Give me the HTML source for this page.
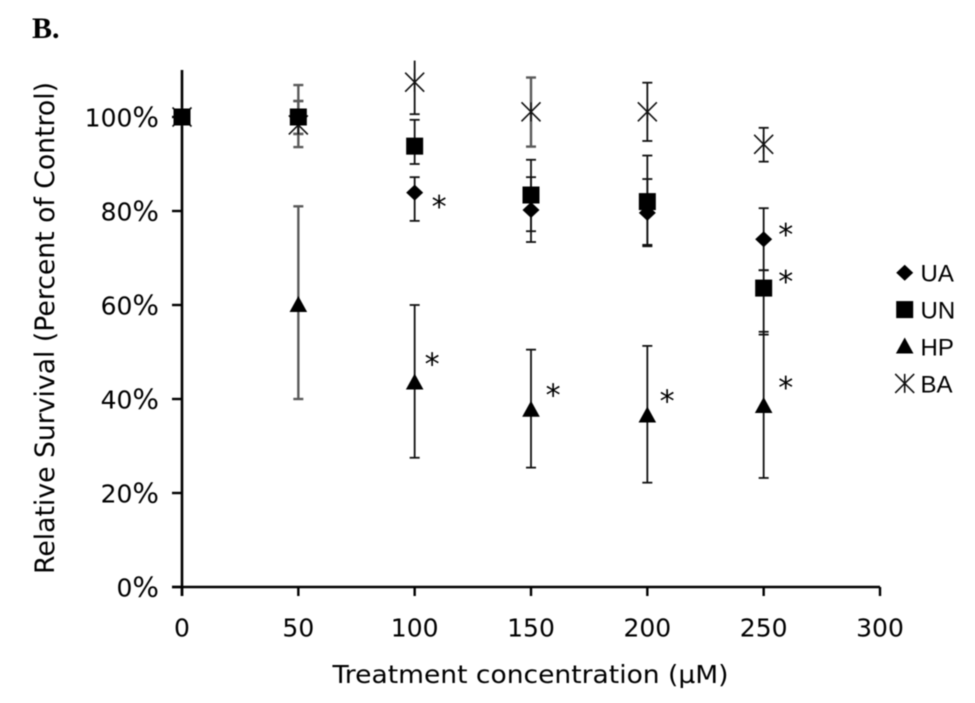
<!DOCTYPE html>
<html lang="en">
<head>
<meta charset="utf-8">
<title>Relative Survival Chart</title>
<style>
html,body{margin:0;padding:0;background:#fff;width:975px;height:703px;overflow:hidden}
svg{display:block;filter:blur(0.4px)}
.tick{font-family:"DejaVu Sans","Liberation Sans",sans-serif;font-size:25px;fill:#000}
.pct{font-size:28px}
.title{font-family:"DejaVu Sans","Liberation Sans",sans-serif;font-size:25px;fill:#000}
.ytitle{font-size:26.5px}
.legend{font-family:"Liberation Sans",sans-serif;font-size:24px;fill:#000}
.star{font-family:"DejaVu Sans","Liberation Sans",sans-serif;font-size:30px;fill:#000}
</style>
</head>
<body>
<svg id="chart" xmlns="http://www.w3.org/2000/svg" width="975" height="703" viewBox="0 0 975 703">
<rect width="975" height="703" fill="#fff"/>
<text x="32" y="38" font-family="Liberation Serif, serif" font-weight="bold" font-size="30" fill="#000">B.</text>
<text class="title ytitle" x="0" y="0" transform="translate(54 328) rotate(-90)" text-anchor="middle" textLength="492" lengthAdjust="spacingAndGlyphs">Relative Survival (Percent of Control)</text>
<text class="title" x="530.5" y="683" text-anchor="middle" textLength="396" lengthAdjust="spacingAndGlyphs">Treatment concentration (µM)</text>
</svg>
<script>
const concentrations = [0, 50, 100, 150, 200, 250];
const uaValues = [100, 100, 83.9, 80.2, 79.6, 74];
const uaUpper = [100, 103.4, 87.2, 87.2, 86.8, 80.6];
const uaLower = [100, 96.4, 77.9, 73.4, 72.8, 67.4];
const unValues = [100, 100, 93.8, 83.4, 82, 63.6];
const unUpper = [100, 103.4, 99.4, 90.9, 91.8, 67.4];
const unLower = [100, 96.4, 90, 75.7, 72.5, 53.7];
const hpValues = [100, 60, 43.5, 37.7, 36.5, 38.5];
const hpUpper = [100, 81, 60, 50.5, 51.3, 54.3];
const hpLower = [100, 40, 27.5, 25.4, 22.2, 23.2];
const baValues = [100, 98.3, 107.4, 101.1, 101.1, 94.2];
const baUpper = [100, 106.8, 112, 108.4, 107.3, 97.7];
const baLower = [100, 93.6, 100.6, 93.7, 94.9, 90.5];
const starConcentrations = [110.5, 107.5, 159.5, 208.5, 259.5, 259.5, 259.5];
const starValues = [81.7, 48.2, 41.6, 40.3, 75.7, 65.7, 43.1];
const xTicks = [0, 50, 100, 150, 200, 250, 300];
const yTicks = [0, 20, 40, 60, 80, 100];
const legendLabels = ['UA', 'UN', 'HP', 'BA'];

const svg = document.getElementById('chart');
const NS = 'http://www.w3.org/2000/svg';
const xScale = v => 182 + v * (698 / 300);
const yScale = v => 587 - v * 4.7;
const axisTop = 111;

function make(tag, attrs) {
  const el = document.createElementNS(NS, tag);
  for (const k in attrs) el.setAttribute(k, attrs[k]);
  svg.appendChild(el);
  return el;
}
function seg(x1, y1, x2, y2, color, width) {
  return make('line', {x1, y1, x2, y2, stroke: color, 'stroke-width': width});
}

function drawMarker(kind, cx, cy) {
  let el;
  if (kind === 'UA') {
    el = make('polygon', {points: [cx - 8.5, cy, cx, cy - 8, cx + 8.5, cy, cx, cy + 8].join(' '), fill: '#000'});
  } else if (kind === 'UN') {
    el = make('rect', {x: cx - 8.5, y: cy - 8.5, width: 17, height: 17, fill: '#000'});
  } else if (kind === 'HP') {
    el = make('polygon', {points: [cx - 8.8, cy + 7, cx, cy - 9, cx + 8.8, cy + 7].join(' '), fill: '#000'});
  } else {
    el = make('path', {d: 'M' + (cx - 9.5) + ' ' + (cy - 9.5) + 'L' + (cx + 9.5) + ' ' + (cy + 9.5) + 'M' + (cx - 9.5) + ' ' + (cy + 9.5) + 'L' + (cx + 9.5) + ' ' + (cy - 9.5) + 'M' + cx + ' ' + (cy - 9.5) + 'L' + cx + ' ' + (cy + 9.5), stroke: '#111', 'stroke-width': 1.6, fill: 'none'});
  }
  return el;
}

// axes
const yAxisLine = seg(xScale(0), yScale(110), xScale(0), 596, '#000', 2.6);


const xAxisLine = seg(172, yScale(0), xScale(300), yScale(0), '#000', 2.6);



yTicks.forEach(v => {
  const t = seg(172, yScale(v), xScale(0), yScale(v), '#000', 2.4);
  
  
  const l = make('text', {x: 159, y: yScale(v) + 9.7, 'text-anchor': 'end', class: 'tick'});
  l.textContent = v;
  const pct = document.createElementNS(NS, 'tspan');
  pct.setAttribute('class', 'pct');
  pct.textContent = '%';
  l.appendChild(pct);
  
  
});
xTicks.forEach(v => {
  const t = seg(xScale(v), yScale(0), xScale(v), 596, '#000', 2.4);
  
  
  const l = make('text', {x: xScale(v), y: 636.5, 'text-anchor': 'middle', class: 'tick'});
  l.textContent = v;
  
  
});

// series
const seriesList = [
  {kind: 'UA', values: uaValues, upper: uaUpper, lower: uaLower},
  {kind: 'UN', values: unValues, upper: unUpper, lower: unLower},
  {kind: 'HP', values: hpValues, upper: hpUpper, lower: hpLower},
  {kind: 'BA', values: baValues, upper: baUpper, lower: baLower}
];

seriesList.forEach(s => {
  concentrations.forEach((c, i) => {
    if (s.upper[i] === s.lower[i]) return;
    const faded = i === 1 || (i === 3 && s.kind === 'BA');
    const color = faded ? '#5a5a5a' : '#111';
    const width = faded ? 2.4 : 1.8;
    const px = xScale(c);
    const bar = seg(px, yScale(s.upper[i]), px, yScale(s.lower[i]), color, width);
    
    
    if (s.upper[i] <= axisTop) {
      const capTop = seg(px - 5, yScale(s.upper[i]), px + 5, yScale(s.upper[i]), color, width);
      
      
    }
    const capBottom = seg(px - 5, yScale(s.lower[i]), px + 5, yScale(s.lower[i]), color, width);
    
    
  });
});

// BA first so the filled markers sit on top of it where they overlap
['BA', 'UA', 'UN', 'HP'].forEach(kind => {
  const s = seriesList.find(d => d.kind === kind);
  concentrations.forEach((c, i) => {
    const m = drawMarker(kind, xScale(c), yScale(s.values[i]));
    
    
  });
});

// significance stars
starConcentrations.forEach((c, i) => {
  const st = make('text', {x: xScale(c), y: yScale(starValues[i]) + 13.8, 'text-anchor': 'middle', class: 'star'});
  st.textContent = '*';
  
  
});

// legend
legendLabels.forEach((label, i) => {
  const cy = 272.7 + i * 36.9;
  const m = drawMarker(label, 904.7, cy);
  
  
  const t = make('text', {x: 920.5, y: cy + 9, class: 'legend'});
  t.textContent = label;
  
  
});
</script>
</body>
</html>
